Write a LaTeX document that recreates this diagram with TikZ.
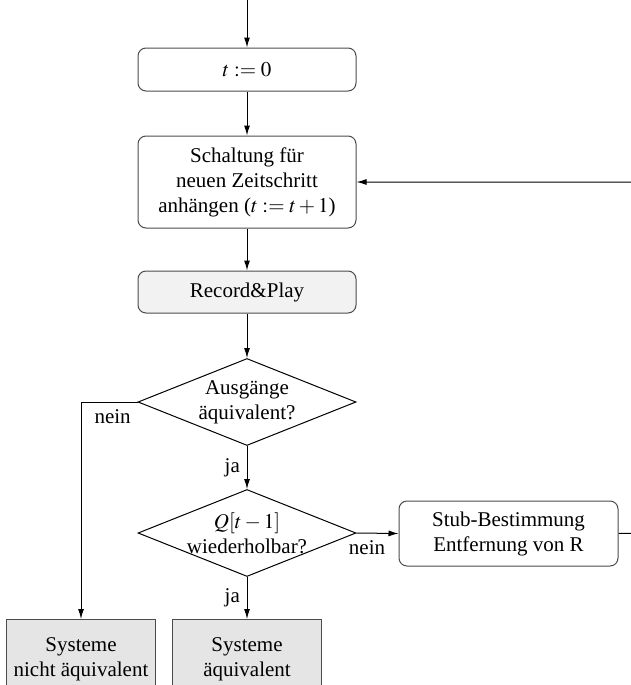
\documentclass[tikz,border=0pt]{standalone}
\usepackage{mathptmx}
\usepackage{fontspec}
\setmainfont{Liberation Serif}
\usetikzlibrary{shapes.geometric,arrows.meta}

\begin{document}
\begin{tikzpicture}[x=0.5pt,y=-0.5pt,line width=0.5pt,>={Latex[length=5pt,width=3pt]},
  every node/.style={font=\fontsize{10.5}{12.5}\selectfont},
  box/.style={draw=black!70,rounded corners=4pt,align=center,minimum width=109pt},
  test/.style={draw,diamond,aspect=2.5,align=center,inner sep=-3pt,minimum width=109pt,minimum height=43.5pt},
  result/.style={draw=black!70,fill=black!10,align=center,minimum height=40pt,anchor=north}]
\useasboundingbox (0,0) rectangle (631,685);
\coordinate (start) at (247,0);
\node[box,minimum height=21.5pt] (init) at (247,69.5) {$t:=0$};
\node[box,minimum height=46pt] (step) at (247,182) {Schaltung für\\neuen Zeitschritt\\anhängen ($t:=t+1$)};
\node[box,fill=black!5,minimum height=21pt] (rp) at (247,292) {Record\&Play};
\node[test] (eq) at (247,402) {Ausgänge\\äquivalent?};
\node[test] (rep) at (247,533) {$Q[t-1]$\\wiederholbar?};
\node[box,minimum width=109.5pt,minimum height=32.5pt] (stub) at (508.5,533.5) {Stub-Bestimmung\\Entfernung von R};
\node[result,minimum width=74pt] (neq) at (81,619) {Systeme\\nicht äquivalent};
\node[result,minimum width=74.5pt] (same) at (247,619) {Systeme\\äquivalent};
\coordinate (back) at (660,533);
% main path
\draw[->] (start) -- (init);
\draw[->] (init) -- (step);
\draw[->] (step) -- (rp);
\draw[->] (rp) -- (eq);
\draw[->] (eq) -- node[left] {ja} (rep);
\draw[->] (rep) -- node[left] {ja} (same);
% branches
\draw[->] (eq.west) -| node[pos=0.22,below] {nein} (neq.north);
\draw[->] (rep.east) -- node[pos=0.25,below] {nein} (stub.west);
\draw[->] (stub.east) -- (back) |- (step.east);
\end{tikzpicture}
\end{document}
